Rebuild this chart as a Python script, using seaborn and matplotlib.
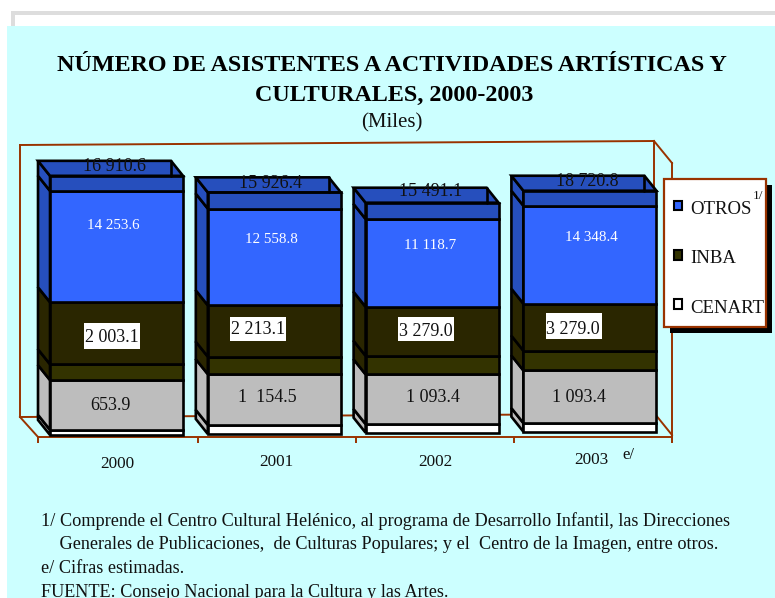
import matplotlib
matplotlib.use("Agg")
import matplotlib.pyplot as plt
import seaborn as sns
import pandas as pd
from matplotlib.lines import Line2D
from matplotlib.patches import Patch, Rectangle
from matplotlib.legend_handler import HandlerPatch
from matplotlib.transforms import Affine2D

# ---------- data (heights of the drawn faces, in miles) ----------
years = ["2000", "2001", "2002", "2003"]
base = [253, 380, 544, 670]
cenart = [653.9, 1154.5, 1093.4, 1093.4]
cenart_top = [6300, 6420, 6290, 6660]
inba = [2003.1, 2213.1, 2350, 2500]
inba_top = [7850, 6500, 6200, 5950]
otros = [14100, 12240, 11118.7, 12400]
otros_top = [1900, 2060, 2060, 1900]

total_labels = ["16 910.6", "15 926.4", "15 491.1", "18 720.8"]
otros_labels = ["14 253.6", "12 558.8", "11 118.7", "14 348.4"]
inba_labels = ["2 003.1", "2 213.1", "3 279.0", "3 279.0"]
cenart_labels = ["653.9", "1  154.5", "1 093.4", "1 093.4"]
legend_labels = ["OTROS", "INBA", "CENART"]

title_lines = ["NÚMERO DE ASISTENTES A ACTIVIDADES ARTÍSTICAS Y", "CULTURALES, 2000-2003"]
subtitle = "(Miles)"
notes = [
    "1/ Comprende el Centro Cultural Helénico, al programa de Desarrollo Infantil, las Direcciones",
    "    Generales de Publicaciones,  de Culturas Populares; y el  Centro de la Imagen, entre otros.",
    "e/ Cifras estimadas.",
    "FUENTE: Consejo Nacional para la Cultura y las Artes.",
]

# ---------- style ----------
W, H = 775, 598
BROWN = "#993300"
CYAN = "#ccffff"
WHITE, GRAY = "#ffffff", "#bdbdbd"
OLIVE, DARK = "#333300", "#2a2600"
BLUE, BLUE_D = "#3366ff", "#264fbd"
EDGE = 1.9
WALL = 1.4
sns.set_theme(style="white")
plt.rcParams["font.family"] = ["Liberation Serif", "DejaVu Serif"]

fig = plt.figure(figsize=(W / 100, H / 100), dpi=100, facecolor="white")
px = Affine2D().scale(1 / W, -1 / H).translate(0, 1) + fig.transFigure


def frect(x, y, w, h, color, z=-5, **kw):
    fig.add_artist(Rectangle((x, y), w, h, transform=px, fc=color,
                             ec=kw.pop("ec", "none"), zorder=z, **kw))


def fline(xs, ys, color=BROWN, lw=WALL, z=-1):
    fig.add_artist(Line2D(xs, ys, transform=px, color=color, lw=lw, zorder=z,
                          solid_capstyle="projecting"))


def ftext(x, y, s, size, **kw):
    kw.setdefault("ha", "center")
    kw.setdefault("va", "center")
    kw.setdefault("color", "#111111")
    return fig.text(x / W, 1 - y / H, s, fontsize=size, **kw)


# page
frect(11, 11, 764, 4, "#dddddd", -6)
frect(11, 11, 4, 16, "#dddddd", -6)
frect(7, 26, 768, 572, CYAN, -5)

# wall and floor
fline([20, 654], [145, 141])
fline([20, 20], [145, 417])
fline([20, 655], [417, 414])
fline([20, 38], [417, 437])
fline([654, 654], [141, 414])
fline([654, 672], [141, 163])
fline([672, 672], [163, 441])
fline([655, 672], [414, 435])

# main axes: the front plane of the chart
left, right, bottom, top = 38, 672, 437, 140
ax = fig.add_axes([left / W, 1 - bottom / H, (right - left) / W, (bottom - top) / H])
ax.patch.set_alpha(0)
UNIT = 0.0079  # pixels per thousand
ax.set_ylim(0, (bottom - top) / UNIT)
BAR_W = 133 / 157.8
DX, DY = 12 / 157.8, 15 / UNIT

df = pd.DataFrame({"year": years, "base": base, "cenart": cenart, "cenart_top": cenart_top,
                   "inba": inba, "inba_top": inba_top, "otros": otros, "otros_top": otros_top})
bands = [("cenart", WHITE, GRAY), ("cenart_top", GRAY, GRAY), ("inba", OLIVE, DARK),
         ("inba_top", DARK, DARK), ("otros", BLUE, BLUE_D), ("otros_top", BLUE_D, BLUE_D)]

cum = df["base"].astype(float).copy()
for name, front, side in bands:
    # left side of each band, pushed back by the depth of the block
    for i, (b, h) in enumerate(zip(cum, df[name])):
        xl = i - BAR_W / 2
        ax.fill([xl, xl - DX, xl - DX, xl], [b, b + DY, b + h + DY, b + h],
                fc=side, ec="black", lw=EDGE, zorder=2, clip_on=False)
    sns.barplot(data=df, x="year", y=name, bottom=cum.values, color=front, saturation=1,
                width=BAR_W, edgecolor="black", linewidth=EDGE, ax=ax, zorder=3)
    cum = cum + df[name]

# top face of each block, with the rear edge showing through on the right
for i, t in enumerate(cum):
    xl, xr = i - BAR_W / 2, i + BAR_W / 2
    ax.fill([xl, xl - DX, xr - DX, xr], [t, t + DY, t + DY, t],
            fc=BLUE_D, ec="black", lw=EDGE, zorder=3, clip_on=False)
    ax.plot([xr - DX, xr - DX], [t, t + DY], color="black", lw=EDGE, zorder=3)

ax.set_xlim(-78.5 / 157.8, 555.5 / 157.8)
ax.set_xlabel("")
ax.set_ylabel("")
ax.set_yticks([])
ax.set_xticks([-0.4975, 0.5155, 1.5165, 2.5175, 3.52], labels=[""] * 5)
ax.tick_params(axis="x", length=4, width=WALL, color=BROWN, bottom=True)
for s in ["left", "top", "right"]:
    ax.spines[s].set_visible(False)
ax.spines["bottom"].set_color(BROWN)
ax.spines["bottom"].set_linewidth(WALL)

# year labels
for s, x, y in zip(years, [117, 276, 435, 591], [464, 462, 462, 460]):
    ftext(x, y, s, 12.3)
ftext(628, 455, "e/", 12)

# value labels
for s, x, y in zip(total_labels, [114.7, 270.7, 430.7, 587], [167, 183, 191, 181]):
    ftext(x, y, s, 13, zorder=6)
for s, x, y in zip(otros_labels, [113, 271, 430, 591], [225, 239, 245, 237]):
    ftext(x, y, s, 10.8, color="white", zorder=6)
for bx, by, bh in zip([84, 230, 398, 546], [323, 317, 317, 313], [26, 24, 24, 26]):
    frect(bx, by, 56, bh, "white", 5.5)
for s, x, y in zip(inba_labels, [112, 258, 426, 573], [337, 330, 332, 330]):
    ftext(x, y, s, 13, zorder=6)
for s, x, y in zip(cenart_labels, [110.7, 267, 433, 579], [406, 398, 398, 398]):
    ftext(x, y, s, 13, zorder=6)

# legend: shadow and box behind the real legend entries
frect(670, 185, 102, 147.5, "black", -0.6)
frect(663.5, 179, 102.5, 148, "white", -0.5, ec=BROWN, lw=1.6)
handles = [Patch(fc=BLUE, ec="black", lw=1.5), Patch(fc=OLIVE, ec="black", lw=1.5),
           Patch(fc=WHITE, ec="black", lw=1.5)]
leg = ax.legend(handles, legend_labels, loc="upper left", bbox_to_anchor=(674, 200.5),
                bbox_transform=px, fontsize=13.5, frameon=False,
                handlelength=0.45, handleheight=0.72, handletextpad=0.42,
                labelspacing=1.72, borderpad=0, borderaxespad=0, labelcolor="#111111",
                handler_map={Patch: HandlerPatch(ypad=0.18)})
leg.set_zorder(5)
ftext(758, 196, "1/", 9.5, zorder=7)

# titles
ftext(392, 65.4, title_lines[0], 17.35, fontweight="bold", color="black")
ftext(394, 95, title_lines[1], 17.35, fontweight="bold", color="black")
ftext(392, 123, subtitle, 15)

# notes
for s, y in zip(notes, [521.5, 544.5, 568.5, 592.5]):
    ftext(41, y, s, 13.18, ha="left")

fig.savefig("out.png", dpi=100, facecolor="white")
